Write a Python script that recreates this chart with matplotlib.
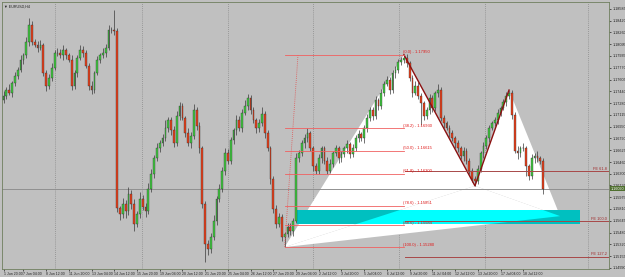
import matplotlib
matplotlib.use("Agg")
import matplotlib.pyplot as plt
from matplotlib.patches import Polygon, Rectangle

# EURUSD H4 candles, prices stored as pips above 1.1500
first_open = 232
close_pips = [
    238, 246, 242, 256, 266, 274, 288, 294, 312, 336,
    313, 309, 305, 308, 270, 252, 263, 277, 297, 298,
    294, 302, 294, 288, 252, 269, 291, 302, 298, 280,
    252, 246, 270, 288, 294, 298, 305, 329, 330, 328,
    82, 74, 88, 78, 102, 88, 60, 74, 95, 84,
    78, 109, 130, 151, 165, 172, 179, 193, 204, 190,
    172, 210, 224, 207, 186, 172, 182, 218, 196, 165,
    88, 32, 25, 42, 64, 95, 109, 134, 158, 148,
    176, 190, 204, 193, 214, 224, 235, 218, 204, 193,
    200, 213, 186, 165, 123, 81, 60, 70, 42, 46,
    56, 50, 64, 151, 158, 172, 179, 186, 165, 140,
    134, 151, 165, 148, 134, 144, 158, 165, 151, 157,
    165, 171, 157, 165, 179, 185, 179, 193, 207, 218,
    210, 232, 224, 242, 255, 260, 246, 269, 274, 285,
    288, 291, 284, 263, 242, 252, 238, 228, 210, 218,
    235, 221, 242, 246, 207, 200, 193, 186, 179, 172,
    165, 154, 162, 148, 134, 123, 120, 137, 158, 168,
    179, 193, 200, 204, 214, 221, 229, 238, 242, 211,
    162, 158, 165, 165, 140, 126, 151, 154, 151, 148,
    109,
]
wick_up = [
    6, 4, 8, 3, 5, 4, 6, 3, 8, 10,
    6, 4, 5, 8, 3, 4, 5, 6, 4, 7,
    5, 6, 3, 4, 6, 5, 4, 7, 5, 3,
    4, 6, 3, 5, 4, 6, 5, 7, 4, 27,
    4, 3, 8, 6, 10, 5, 7, 4, 9, 6,
    5, 8, 6, 5, 7, 4, 6, 12, 5, 4,
    6, 7, 5, 4, 3, 8, 6, 9, 4, 5,
    3, 4, 6, 5, 8, 4, 6, 5, 7, 6,
    5, 4, 7, 6, 5, 8, 6, 4, 5, 3,
    6, 9, 4, 5, 3, 4, 6, 5, 4, 3,
    5, 6, 4, 7, 5, 4, 6, 8, 3, 4,
    5, 6, 4, 3, 5, 6, 4, 5, 3, 4,
    4, 5, 3, 6, 4, 5, 3, 4, 6, 5,
    4, 6, 3, 5, 4, 6, 4, 5, 6, 4,
    4, 4, 5, 3, 4, 6, 5, 4, 3, 5,
    6, 4, 3, 8, 4, 5, 3, 4, 5, 3,
    4, 3, 5, 4, 3, 4, 3, 5, 4, 6,
    5, 4, 3, 4, 5, 3, 4, 5, 4, 4,
    5, 6, 4, 8, 3, 4, 6, 4, 7, 3,
    3,
]
wick_dn = [
    4, 5, 3, 6, 4, 5, 3, 6, 4, 5,
    5, 3, 6, 4, 5, 8, 4, 5, 3, 4,
    4, 6, 5, 3, 6, 4, 5, 3, 6, 4,
    6, 5, 4, 3, 5, 4, 6, 3, 4, 5,
    5, 8, 6, 10, 5, 7, 9, 4, 6, 5,
    8, 4, 5, 6, 4, 5, 3, 4, 5, 6,
    5, 4, 6, 3, 5, 4, 6, 4, 5, 7,
    6, 24, 8, 5, 4, 6, 5, 4, 6, 5,
    4, 5, 6, 4, 5, 3, 6, 5, 4, 6,
    5, 4, 6, 3, 8, 5, 6, 4, 5, 14,
    4, 5, 6, 3, 5, 4, 6, 5, 4, 6,
    5, 4, 6, 5, 4, 3, 5, 4, 6, 5,
    4, 6, 5, 4, 3, 5, 4, 6, 5, 4,
    5, 4, 6, 5, 4, 3, 5, 4, 6, 5,
    4, 5, 6, 4, 5, 3, 4, 30, 5, 4,
    5, 6, 4, 5, 4, 6, 3, 5, 4, 6,
    5, 4, 6, 5, 4, 5, 7, 4, 5, 6,
    4, 5, 3, 4, 5, 4, 3, 5, 4, 5,
    4, 8, 5, 4, 14, 5, 4, 6, 5, 4,
    7,
]

# harmonic pattern pivots X, A, B, C, D (bar index, price)
pivot_bars = [99, 141, 166, 178, 196]
pivot_prices = [1.1528, 1.1795, 1.1613, 1.1746, 1.1571]
retr_levels = [0.0, 38.2, 50.0, 61.8, 78.6, 88.6, 100.0]
fe_levels = [61.8, 100.0, 127.2]

# potential reversal zone box
prz_bars = [103.5, 203]
prz_prices = [1.1560, 1.15795]

ytick_values = [1.14990, 1.15155, 1.15320, 1.15480, 1.15645, 1.15810, 1.15975,
                1.16135, 1.16300, 1.16460, 1.16625, 1.16790, 1.16950, 1.17115,
                1.17280, 1.17440, 1.17605, 1.17770, 1.17935, 1.18095, 1.18260,
                1.18420, 1.18585]
xtick_bars = [0] + list(range(7, 190, 8))
xtick_labels = ["1 Jun 20:00", "7 Jun 04:00", "8 Jun 12:00", "11 Jun 20:00",
                "13 Jun 04:00", "14 Jun 12:00", "15 Jun 20:00", "19 Jun 04:00",
                "20 Jun 12:00", "21 Jun 20:00", "25 Jun 04:00", "26 Jun 12:00",
                "27 Jun 20:00", "29 Jun 04:00", "2 Jul 12:00", "3 Jul 20:00",
                "5 Jul 04:00", "6 Jul 12:00", "9 Jul 20:00", "11 Jul 04:00",
                "12 Jul 12:00", "13 Jul 20:00", "17 Jul 04:00", "18 Jul 12:00"]

bg = '#c0c0c0'
plt.rcParams['font.family'] = ['Liberation Sans', 'DejaVu Sans']

fig = plt.figure(figsize=(6.25, 2.77), dpi=100)
fig.patch.set_facecolor(bg)
ax = fig.add_axes([2 / 625, 8 / 277, 607 / 625, 267 / 277])
ax.set_facecolor(bg)
ax.set_xlim(-0.53, 213.2)
ax.set_ylim(1.14976, 1.18682)

to_price = lambda p: 1.15 + p / 10000.0

# vertical dotted grid
for gx in [18.1, 48.8, 79.0, 109.0, 139.1, 169.5, 205.8]:
    ax.axvline(gx, color='#8a8a8a', lw=0.6, ls=(0, (1, 1.5)), zorder=0.5)

# pattern triangles
X, A, B, C, D = list(zip(pivot_bars, pivot_prices))
ax.add_patch(Polygon([X, A, B], closed=True, fc='white', ec='none', zorder=1))
ax.add_patch(Polygon([B, C, D], closed=True, fc='white', ec='none', zorder=1))
low_tri = Polygon([X, B, D], closed=True, fc='white', ec='none', zorder=1)
ax.add_patch(low_tri)

# PRZ box: teal over background, bright cyan over the white triangle
ax.add_patch(Rectangle((prz_bars[0], prz_prices[0]), prz_bars[1] - prz_bars[0],
                       prz_prices[1] - prz_prices[0], fc='#00c0c0', ec='none', zorder=1.5))
bright = Rectangle((prz_bars[0], prz_prices[0]), prz_bars[1] - prz_bars[0],
                   prz_prices[1] - prz_prices[0], fc='#00ffff', ec='none', zorder=1.6)
ax.add_patch(bright)
bright.set_clip_path(low_tri)

# current price line
last = to_price(close_pips[-1])
ax.axhline(last, color='#909090', lw=0.7, zorder=1.8)

# candles
opens = [first_open] + close_pips[:-1]
for i, (o, c) in enumerate(zip(opens, close_pips)):
    hi = max(o, c) + wick_up[i]
    lo = min(o, c) - wick_dn[i]
    ax.vlines(i, to_price(lo), to_price(hi), color='#3a3a3a', lw=0.5, zorder=3)
    body = max(abs(c - o), 0.6)
    col = '#40c840' if c >= o else '#e8401c'
    ax.bar(i, body / 10000.0, bottom=to_price(min(o, c)), width=0.62,
           color=col, edgecolor='#2a2a2a', linewidth=0.25, zorder=4)

# AB and BC legs
ax.plot([A[0], B[0], C[0]], [A[1], B[1], C[1]], color='#8b1010', lw=1.0, zorder=5)

# fib retracement X -> A
ax.plot([X[0], X[0] + 4.7], [X[1], A[1]], color='#e05050', lw=0.6, ls=(0, (1, 1.5)), zorder=5)
for lv in retr_levels:
    p = A[1] - lv / 100.0 * (A[1] - X[1])
    ax.plot([X[0], A[0]], [p, p], color='#f06060', lw=0.6, zorder=5)
    ax.text(A[0] - 0.5, p + 0.00008, f"({lv:.1f}) - {p:.5f}", color='#e01818',
            fontsize=3.0, ha='left', va='bottom', zorder=6)

# fib expansion from C
for lv in fe_levels:
    p = C[1] - lv / 100.0 * (A[1] - B[1])
    ax.plot([A[0] + 0.5, 213.2], [p, p], color='#a84848', lw=0.7, zorder=5)
    ax.text(212.5, p + 0.00006, f"FE {lv:.1f}", color='#a02828',
            fontsize=2.8, ha='right', va='bottom', zorder=6)

# axes cosmetics
for s in ax.spines.values():
    s.set_color('#6f7f5f')
    s.set_linewidth(0.6)
ax.yaxis.tick_right()
ax.set_yticks(ytick_values)
ax.set_yticklabels([f"{v:.5f}" for v in ytick_values])
ax.set_xticks(xtick_bars)
ax.set_xticklabels(xtick_labels)
ax.tick_params(axis='y', length=1.5, width=0.5, pad=1, labelsize=2.7, colors='#202020')
ax.tick_params(axis='x', length=1.5, width=0.5, pad=0.8, labelsize=2.5, colors='#202020')
for lab in ax.get_xticklabels():
    lab.set_ha('left')

# current price tag
ax.text(1.003, last, f"{last:.5f}", transform=ax.get_yaxis_transform(), fontsize=2.7,
        color='white', va='center', ha='left', zorder=7,
        bbox=dict(boxstyle='square,pad=0.15', fc='#4f6f2f', ec='none'))

ax.text(0.004, 0.992, "\u25BC EURUSD,H4", transform=ax.transAxes, fontsize=2.7,
        color='#202020', va='top', ha='left')

fig.savefig('out.png', dpi=100, facecolor=bg)
